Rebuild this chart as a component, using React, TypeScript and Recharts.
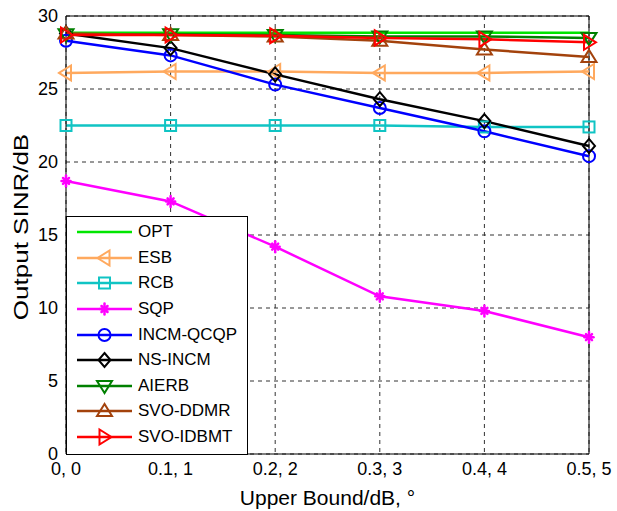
import React from 'react';
import { LineChart, Line, XAxis, YAxis, CartesianGrid, Legend, ReferenceLine } from 'recharts';

const categories = ['0, 0', '0.1, 1', '0.2, 2', '0.3, 3', '0.4, 4', '0.5, 5'];
const yTicks = [0, 5, 10, 15, 20, 25, 30];

const opt = [28.85, 28.85, 28.85, 28.85, 28.85, 28.85];
const esb = [26.1, 26.2, 26.2, 26.1, 26.1, 26.2];
const rcb = [22.5, 22.5, 22.5, 22.5, 22.4, 22.4];
const sqp = [18.7, 17.3, 14.2, 10.8, 9.8, 8.0];
const incmQcqp = [28.3, 27.3, 25.3, 23.7, 22.1, 20.4];
const nsIncm = [28.8, 27.8, 26.0, 24.3, 22.8, 21.1];
const aierb = [28.75, 28.75, 28.7, 28.6, 28.6, 28.5];
const svoDdmr = [28.8, 28.7, 28.6, 28.3, 27.7, 27.2];
const svoIdbmt = [28.7, 28.7, 28.65, 28.5, 28.4, 28.2];

const seriesNames = ['OPT', 'ESB', 'RCB', 'SQP', 'INCM-QCQP', 'NS-INCM', 'AIERB', 'SVO-DDMR', 'SVO-IDBMT'];
const seriesValues = [opt, esb, rcb, sqp, incmQcqp, nsIncm, aierb, svoDdmr, svoIdbmt];

type Kind = 'none' | 'triLeft' | 'square' | 'star' | 'circle' | 'diamond' | 'triDown' | 'triUp' | 'triRight';

const styles: { key: string; color: string; kind: Kind }[] = [
  { key: 'opt', color: '#00e600', kind: 'none' },
  { key: 'esb', color: '#ffa95e', kind: 'triLeft' },
  { key: 'rcb', color: '#10c4c4', kind: 'square' },
  { key: 'sqp', color: '#ff00ff', kind: 'star' },
  { key: 'incm', color: '#0000ff', kind: 'circle' },
  { key: 'ns', color: '#000000', kind: 'diamond' },
  { key: 'aierb', color: '#008000', kind: 'triDown' },
  { key: 'ddmr', color: '#a3420c', kind: 'triUp' },
  { key: 'idbmt', color: '#ff0000', kind: 'triRight' },
];

const data = categories.map((c, i) => {
  const row: Record<string, string | number> = { cat: c };
  styles.forEach((s, k) => {
    row[s.key] = seriesValues[k][i];
  });
  return row;
});

function Marker({ kind, cx, cy, color }: { kind: Kind; cx: number; cy: number; color: string }) {
  const sw = 2;
  switch (kind) {
    case 'triLeft':
      return <polygon points={`${cx - 7},${cy} ${cx + 5},${cy - 7.5} ${cx + 5},${cy + 7.5}`} fill="none" stroke={color} strokeWidth={sw} />;
    case 'triRight':
      return <polygon points={`${cx + 7},${cy} ${cx - 5},${cy - 7.5} ${cx - 5},${cy + 7.5}`} fill="none" stroke={color} strokeWidth={sw} />;
    case 'triUp':
      return <polygon points={`${cx},${cy - 7} ${cx - 7.5},${cy + 5} ${cx + 7.5},${cy + 5}`} fill="none" stroke={color} strokeWidth={sw} />;
    case 'triDown':
      return <polygon points={`${cx},${cy + 7} ${cx - 7.5},${cy - 5} ${cx + 7.5},${cy - 5}`} fill="none" stroke={color} strokeWidth={sw} />;
    case 'square':
      return <rect x={cx - 5.5} y={cy - 5.5} width={11} height={11} fill="none" stroke={color} strokeWidth={sw} />;
    case 'circle':
      return <circle cx={cx} cy={cy} r={6} fill="none" stroke={color} strokeWidth={sw} />;
    case 'diamond':
      return <polygon points={`${cx},${cy - 7} ${cx + 6},${cy} ${cx},${cy + 7} ${cx - 6},${cy}`} fill="none" stroke={color} strokeWidth={sw} />;
    case 'star':
      return (
        <g stroke={color} strokeWidth={2.5} strokeLinecap="round">
          <line x1={cx - 4.5} y1={cy} x2={cx + 4.5} y2={cy} />
          <line x1={cx} y1={cy - 5.5} x2={cx} y2={cy + 5.5} />
          <line x1={cx - 3} y1={cy - 3} x2={cx + 3} y2={cy + 3} />
          <line x1={cx - 3} y1={cy + 3} x2={cx + 3} y2={cy - 3} />
        </g>
      );
    default:
      return null;
  }
}

const FONT = '"Liberation Sans", Arial, Helvetica, sans-serif';

function LegendBox() {
  return (
    <div
      style={{
        width: 182,
        height: 239,
        boxSizing: 'border-box',
        border: '1px solid #000',
        background: '#fff',
        paddingTop: 2.5,
        fontFamily: FONT,
      }}
    >
      {styles.map((s, i) => (
        <div key={s.key} style={{ display: 'flex', alignItems: 'center', height: 25.6 }}>
          <svg width={70} height={26} style={{ display: 'block', flex: 'none' }}>
            <line x1={10} x2={65} y1={13} y2={13} stroke={s.color} strokeWidth={2.5} />
            <Marker kind={s.kind} cx={37.5} cy={13} color={s.color} />
          </svg>
          <span style={{ fontSize: 17, color: '#000', marginLeft: 1, lineHeight: '26px' }}>{seriesNames[i]}</span>
        </div>
      ))}
    </div>
  );
}

const YLabel = (props: any) => {
  const vb = props.viewBox || { x: 0, y: 16, width: 66, height: 438 };
  const cx = vb.x + 28;
  const cy = vb.y + vb.height / 2 - 8;
  return (
    <text
      transform={`translate(${cx},${cy}) rotate(-90) scale(1.3,1)`}
      textAnchor="middle"
      fontSize={20}
      fontFamily={FONT}
      fill="#000"
    >
      Output SINR/dB
    </text>
  );
};

export default function App() {
  return (
    <div style={{ position: 'absolute', left: 0, top: 0, width: 617, height: 511, background: '#fff' }}>
      <LineChart
        width={617}
        height={511}
        data={data}
        margin={{ top: 16, right: 28, left: 0, bottom: 0 }}
        style={{ fontFamily: FONT }}
      >
        <CartesianGrid stroke="#333" strokeDasharray="4 4" strokeWidth={1} />
        <XAxis
          dataKey="cat"
          height={57}
          tickLine={false}
          axisLine={{ stroke: '#000', strokeWidth: 1 }}
          tick={{ fill: '#000', fontSize: 18, fontFamily: FONT }}
          interval={0}
          label={{ value: 'Upper Bound/dB, °', position: 'insideBottom', offset: 6, fontSize: 21, fill: '#000', fontFamily: FONT }}
        />
        <YAxis
          width={66}
          domain={[0, 30]}
          ticks={yTicks}
          tickLine={false}
          axisLine={{ stroke: '#000', strokeWidth: 1 }}
          tick={{ fill: '#000', fontSize: 18, fontFamily: FONT }}
          label={<YLabel />}
        />
        <ReferenceLine y={30} stroke="#000" strokeWidth={1} />
        <ReferenceLine x={categories[categories.length - 1]} stroke="#000" strokeWidth={1} />
        {styles.map((s, i) => (
          <Line
            key={s.key}
            dataKey={s.key}
            name={seriesNames[i]}
            stroke={s.color}
            strokeWidth={2.5}
            isAnimationActive={false}
            activeDot={false}
            dot={
              s.kind === 'none'
                ? false
                : (p: any) => <Marker key={`${s.key}-${p.index}`} kind={s.kind} cx={p.cx} cy={p.cy} color={s.color} />
            }
          />
        ))}
        <Legend
          layout="vertical"
          align="center"
          verticalAlign="middle"
          content={() => <LegendBox />}
          wrapperStyle={{ left: 66, top: 216, width: 182, height: 239 }}
        />
      </LineChart>
    </div>
  );
}
